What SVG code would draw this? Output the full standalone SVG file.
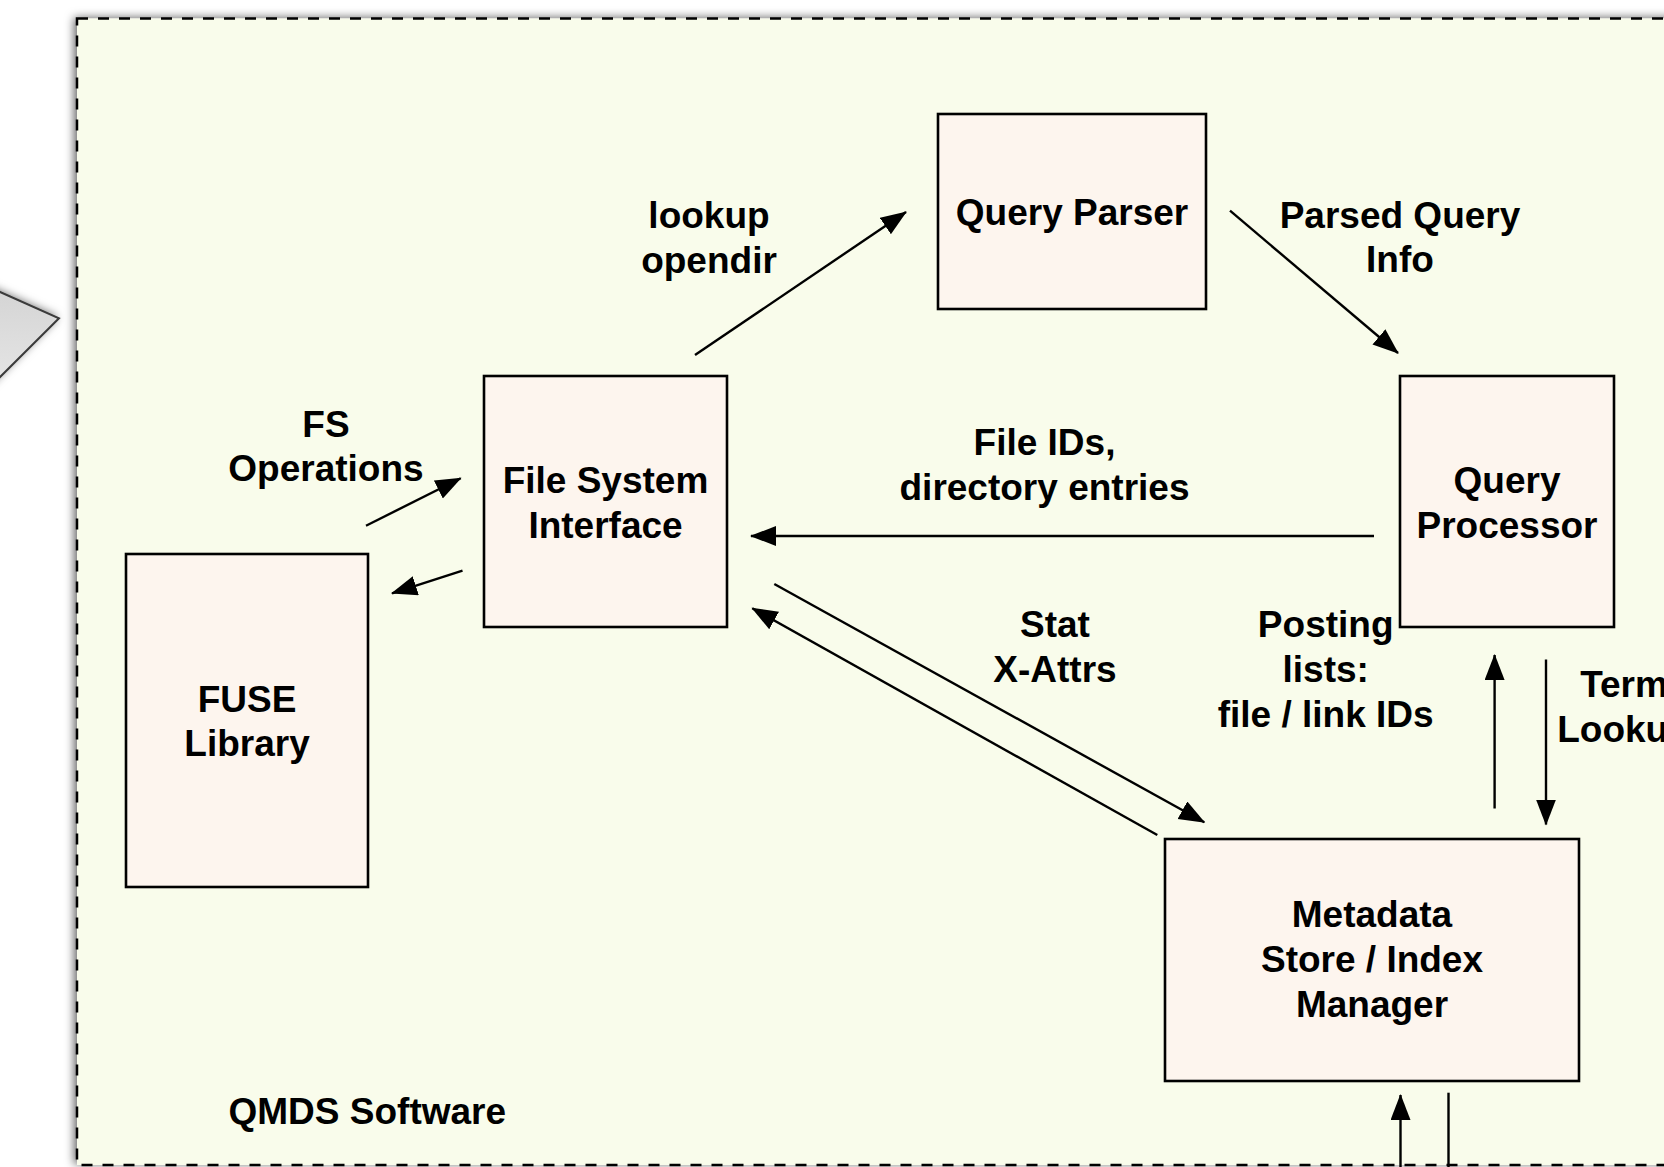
<svg xmlns="http://www.w3.org/2000/svg" width="1664" height="1167" viewBox="0 0 1664 1167">
<defs>
<style>
.box{fill:#FDF5EE;stroke:#000;stroke-width:2.6}
.t{font-family:"Liberation Sans",Arial,Helvetica,sans-serif;font-weight:bold;font-size:37px;fill:#000;text-anchor:middle}
.c{stroke:#000;stroke-width:2.4;fill:none;marker-end:url(#ah)}
.cn{stroke:#000;stroke-width:2.4;fill:none}
</style>
<marker id="ah" markerWidth="28" markerHeight="22" refX="25" refY="10" orient="auto" markerUnits="userSpaceOnUse">
<path d="M0,0 L26,10 L0,20 Z" fill="#000"/>
</marker>
<filter id="sh" x="-10%" y="-10%" width="120%" height="120%">
<feDropShadow dx="-3" dy="-1" stdDeviation="5" flood-color="#000" flood-opacity="0.6"/>
</filter>
<linearGradient id="gg" x1="0" y1="0" x2="0" y2="1">
<stop offset="0" stop-color="#d4d4d4"/>
<stop offset="1" stop-color="#e6e6e6"/>
</linearGradient>
</defs>
<rect x="0" y="0" width="1664" height="1167" fill="#fff"/>
<g id="arrow-shape">
<polygon points="-10,287.5 59,318.3 -10,387" fill="url(#gg)" stroke="#3a3a3a" stroke-width="2" filter="url(#sh)"/>
</g>
<g id="container">
<rect x="77" y="18.5" width="1650" height="1146.5" fill="#F9FCEB" filter="url(#sh)"/>
<rect x="77" y="18.5" width="1650" height="1146.5" fill="none" stroke="#000" stroke-width="2.5" stroke-dasharray="11 10"/>
<text class="t" x="228.5" y="1124" style="text-anchor:start">QMDS Software</text>
</g>
<g id="query-parser">
<rect class="box" x="938" y="114" width="268" height="195"/>
<text class="t" x="1072" y="225">Query Parser</text>
</g>
<g id="query-processor">
<rect class="box" x="1400" y="376" width="214" height="251"/>
<text class="t" x="1507" y="493">Query</text>
<text class="t" x="1507" y="537.5">Processor</text>
</g>
<g id="file-system-interface">
<rect class="box" x="484" y="376" width="243" height="251"/>
<text class="t" x="605.5" y="493">File System</text>
<text class="t" x="605.5" y="537.5">Interface</text>
</g>
<g id="fuse-library">
<rect class="box" x="126" y="554" width="242" height="333"/>
<text class="t" x="247" y="711.5">FUSE</text>
<text class="t" x="247" y="756">Library</text>
</g>
<g id="metadata-store">
<rect class="box" x="1165" y="839" width="414" height="242"/>
<text class="t" x="1372" y="927">Metadata</text>
<text class="t" x="1372" y="972">Store / Index</text>
<text class="t" x="1372" y="1017">Manager</text>
</g>
<g id="connectors">
<line class="c" x1="695" y1="355" x2="906" y2="212"/>
<line class="c" x1="1230" y1="210.7" x2="1398" y2="353"/>
<line class="c" x1="1374" y1="536" x2="751" y2="536"/>
<line class="c" x1="366" y1="525.7" x2="460.7" y2="478.3"/>
<line class="c" x1="462.5" y1="570.7" x2="392" y2="593.3"/>
<line class="c" x1="774.3" y1="584" x2="1204.3" y2="822.3"/>
<line class="c" x1="1157.3" y1="835" x2="752.3" y2="608.3"/>
<line class="c" x1="1494.6" y1="808.5" x2="1494.6" y2="655"/>
<line class="c" x1="1546" y1="659.5" x2="1546" y2="824.5"/>
<line class="c" x1="1400.5" y1="1170" x2="1400.5" y2="1095"/>
<line class="cn" x1="1448.5" y1="1092.7" x2="1448.5" y2="1170"/>
</g>
<g id="labels">
<text class="t" x="709" y="228">lookup</text>
<text class="t" x="709" y="272.5">opendir</text>
<text class="t" x="1400" y="228">Parsed Query</text>
<text class="t" x="1400" y="272">Info</text>
<text class="t" x="326" y="437">FS</text>
<text class="t" x="326" y="481">Operations</text>
<text class="t" x="1044.5" y="455">File IDs,</text>
<text class="t" x="1044.5" y="500">directory entries</text>
<text class="t" x="1055" y="637">Stat</text>
<text class="t" x="1055" y="682">X-Attrs</text>
<text class="t" x="1325.7" y="637">Posting</text>
<text class="t" x="1325.7" y="682">lists:</text>
<text class="t" x="1325.7" y="727">file / link IDs</text>
<text class="t" x="1624" y="697">Term</text>
<text class="t" x="1624" y="742">Lookup</text>
</g>
</svg>
